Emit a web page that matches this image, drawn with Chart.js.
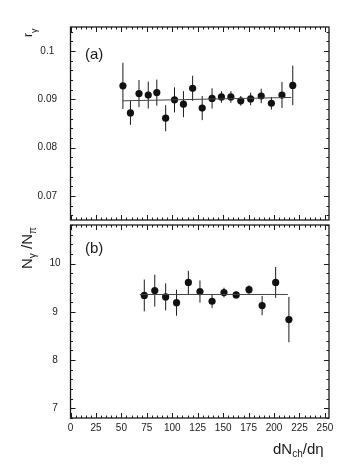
<!DOCTYPE html>
<html><head><meta charset="utf-8">
<script src="https://cdn.jsdelivr.net/npm/chart.js@4/dist/chart.umd.min.js"></script>
<style>
html,body{margin:0;padding:0;background:#fff;width:350px;height:471px;overflow:hidden}
#wa{position:absolute;left:0;top:0;width:333px;height:224px}
#wb{position:absolute;left:0;top:221px;width:333px;height:250px}
</style></head><body>
<div id="wa"><canvas id="ca" width="333" height="224"></canvas></div>
<div id="wb"><canvas id="cb" width="333" height="250"></canvas></div>
<script>
// ---- data ----
const xA = [51.5, 58.9, 67.3, 76.4, 84.8, 93.5, 102.2, 111, 120, 129.4, 139.1, 148.3, 157.6, 167.3, 177, 187.4, 197.4, 207.8, 218.4];
const rGamma = [0.0928, 0.0872, 0.0912, 0.0909, 0.0914, 0.0861, 0.0899, 0.0890, 0.0923, 0.0882, 0.0902, 0.0905, 0.0905, 0.0897, 0.0901, 0.0907, 0.0892, 0.0909, 0.0929];
const rGammaErr = [0.0048, 0.0025, 0.0028, 0.0028, 0.0027, 0.0027, 0.0026, 0.0027, 0.0026, 0.0025, 0.0021, 0.0012, 0.0012, 0.0010, 0.0013, 0.0015, 0.0013, 0.0027, 0.0041];
const fitAx = [51.5, 217];
const fitAy = [0.0897, 0.0904];

const xB = [72.5, 82.8, 93.5, 104.2, 115.8, 127.2, 139.1, 150.8, 162.8, 175.4, 188.3, 201.6, 214.6];
const nRatio = [9.34, 9.44, 9.31, 9.19, 9.61, 9.42, 9.22, 9.40, 9.35, 9.46, 9.13, 9.61, 8.84];
const nRatioErr = [0.33, 0.33, 0.28, 0.27, 0.24, 0.23, 0.14, 0.10, 0.07, 0.09, 0.20, 0.32, 0.47];
const fitBx = [68, 213.6];
const fitBy = [9.36, 9.36];

const xTicks = [0, 25, 50, 75, 100, 125, 150, 175, 200, 225, 250];
const yTicksA = [0.07, 0.08, 0.09, 0.1];
const yTicksB = [7, 8, 9, 10];

const FONT = '"Liberation Sans", Arial, sans-serif';
const INK = '#1a1a1a';

// ---- plugins ----
const errBars = {
  id: 'errbars',
  beforeDatasetsDraw(chart, args, o) {
    const {ctx, scales: {x, y}} = chart;
    ctx.save();
    ctx.strokeStyle = INK; ctx.lineWidth = 1;
    ctx.beginPath();
    o.xs.forEach((xv, i) => {
      const px = x.getPixelForValue(xv);
      ctx.moveTo(px, y.getPixelForValue(o.ys[i] - o.err[i]));
      ctx.lineTo(px, y.getPixelForValue(o.ys[i] + o.err[i]));
    });
    ctx.stroke();
    ctx.restore();
  }
};

const frame = {
  id: 'frame',
  afterDatasetsDraw(chart, args, o) {
    const {ctx, chartArea: a, scales: {x, y}} = chart;
    ctx.save();
    ctx.strokeStyle = INK;
    ctx.lineWidth = 1;
    ctx.beginPath();
    for (let n = 0; n * 5 <= x.max; n++) {
      const px = Math.round(x.getPixelForValue(n * 5)) + 0.5;
      const L = n % 5 === 0 ? 5 : 2.5;
      ctx.moveTo(px, a.bottom); ctx.lineTo(px, a.bottom - L);
      ctx.moveTo(px, a.top); ctx.lineTo(px, a.top + L);
    }
    const n0 = Math.ceil(y.min / o.minor - 1e-6), n1 = Math.floor(y.max / o.minor + 1e-6);
    for (let n = n0; n <= n1; n++) {
      const py = Math.round(y.getPixelForValue(n * o.minor)) + 0.5;
      const L = n % o.ratio === 0 ? 5 : 2.5;
      ctx.moveTo(a.left, py); ctx.lineTo(a.left + L, py);
      ctx.moveTo(a.right, py); ctx.lineTo(a.right - L, py);
    }
    ctx.stroke();
    ctx.lineWidth = 1.3;
    ctx.strokeRect(a.left, a.top, a.right - a.left, a.bottom - a.top);
    ctx.restore();
  }
};

function drawRich(ctx, x, y, rot, pieces) {
  ctx.save();
  ctx.translate(x, y);
  if (rot) ctx.rotate(rot);
  ctx.fillStyle = INK;
  ctx.textBaseline = 'alphabetic';
  ctx.textAlign = 'left';
  let u = 0;
  pieces.forEach(p => {
    ctx.font = p.size + 'px ' + FONT;
    ctx.fillText(p.t, u, p.dy || 0);
    u += ctx.measureText(p.t).width;
  });
  ctx.restore();
}

const labels = {
  id: 'labels',
  afterDraw(chart, args, o) {
    o.items.forEach(it => drawRich(chart.ctx, it.x, it.y, it.rot, it.pieces));
  }
};

function yScale(min, max, ticks, pad, fmt) {
  return {
    min, max,
    afterBuildTicks: s => { s.ticks = ticks.map(v => ({value: v})); },
    afterFit: s => { s.width = 70.5; s.paddingTop = 0; s.paddingBottom = 0; },
    grid: {display: false, drawTicks: false},
    border: {display: false},
    ticks: {crossAlign: 'center', padding: pad, color: INK, font: {family: FONT, size: 10}, callback: fmt}
  };
}

function baseOpts() {
  return {
    responsive: false, animation: false, events: [],
    plugins: {legend: {display: false}, tooltip: {enabled: false}}
  };
}

function datasets(xs, ys, fx, fy) {
  return [
    {type: 'line', data: fx.map((v, i) => ({x: v, y: fy[i]})), borderColor: '#444', borderWidth: 1, pointRadius: 0, fill: false},
    {type: 'scatter', data: xs.map((v, i) => ({x: v, y: ys[i]})), pointRadius: 3.6, backgroundColor: '#111', borderWidth: 0}
  ];
}

// ---- panel (a) ----
const optA = baseOpts();
optA.layout = {padding: {top: 27, right: 1, bottom: 1.5, left: 0}};
optA.scales = {
  x: {type: 'linear', min: 0, max: 254, display: false},
  y: yScale(0.065, 0.105, yTicksA, 13.5, v => String(+v.toFixed(3)))
};
optA.plugins.errbars = {xs: xA, ys: rGamma, err: rGammaErr};
optA.plugins.frame = {minor: 0.002, ratio: 5};
optA.plugins.labels = {items: [
  {x: 85, y: 58.5, pieces: [{t: '(a)', size: 15}]},
  {x: 32, y: 37, rot: -Math.PI / 2, pieces: [{t: 'r', size: 12}, {t: 'γ', size: 9, dy: 5}]}
]};
new Chart(document.getElementById('ca'), {
  type: 'scatter',
  data: {datasets: datasets(xA, rGamma, fitAx, fitAy)},
  options: optA,
  plugins: [errBars, frame, labels]
});

// ---- panel (b) ----
const optB = baseOpts();
optB.layout = {padding: {top: 1.5, right: 1, bottom: 0, left: 0}};
optB.scales = {
  x: {
    type: 'linear', min: 0, max: 254,
    afterBuildTicks: s => { s.ticks = xTicks.map(v => ({value: v})); },
    afterFit: s => { s.height = 53; s.paddingLeft = 0; s.paddingRight = 0; },
    grid: {display: false, drawTicks: false},
    border: {display: false},
    ticks: {padding: 4, maxRotation: 0, autoSkip: false, color: INK, font: {family: FONT, size: 10}, callback: v => String(v)}
  },
  y: yScale(6.8, 10.8, yTicksB, 10, v => String(v))
};
optB.plugins.errbars = {xs: xB, ys: nRatio, err: nRatioErr};
optB.plugins.frame = {minor: 0.2, ratio: 5};
optB.plugins.labels = {items: [
  {x: 85, y: 32, pieces: [{t: '(b)', size: 15}]},
  {x: 32, y: 48, rot: -Math.PI / 2, pieces: [
    {t: 'N', size: 15}, {t: 'γ', size: 10, dy: 4}, {t: ' /', size: 15}, {t: 'N', size: 15}, {t: 'π', size: 10, dy: 4}
  ]},
  {x: 273, y: 233, pieces: [{t: 'dN', size: 15}, {t: 'ch', size: 10, dy: 3}, {t: '/dη', size: 15}]}
]};
new Chart(document.getElementById('cb'), {
  type: 'scatter',
  data: {datasets: datasets(xB, nRatio, fitBx, fitBy)},
  options: optB,
  plugins: [errBars, frame, labels]
});
</script>
</body></html>
